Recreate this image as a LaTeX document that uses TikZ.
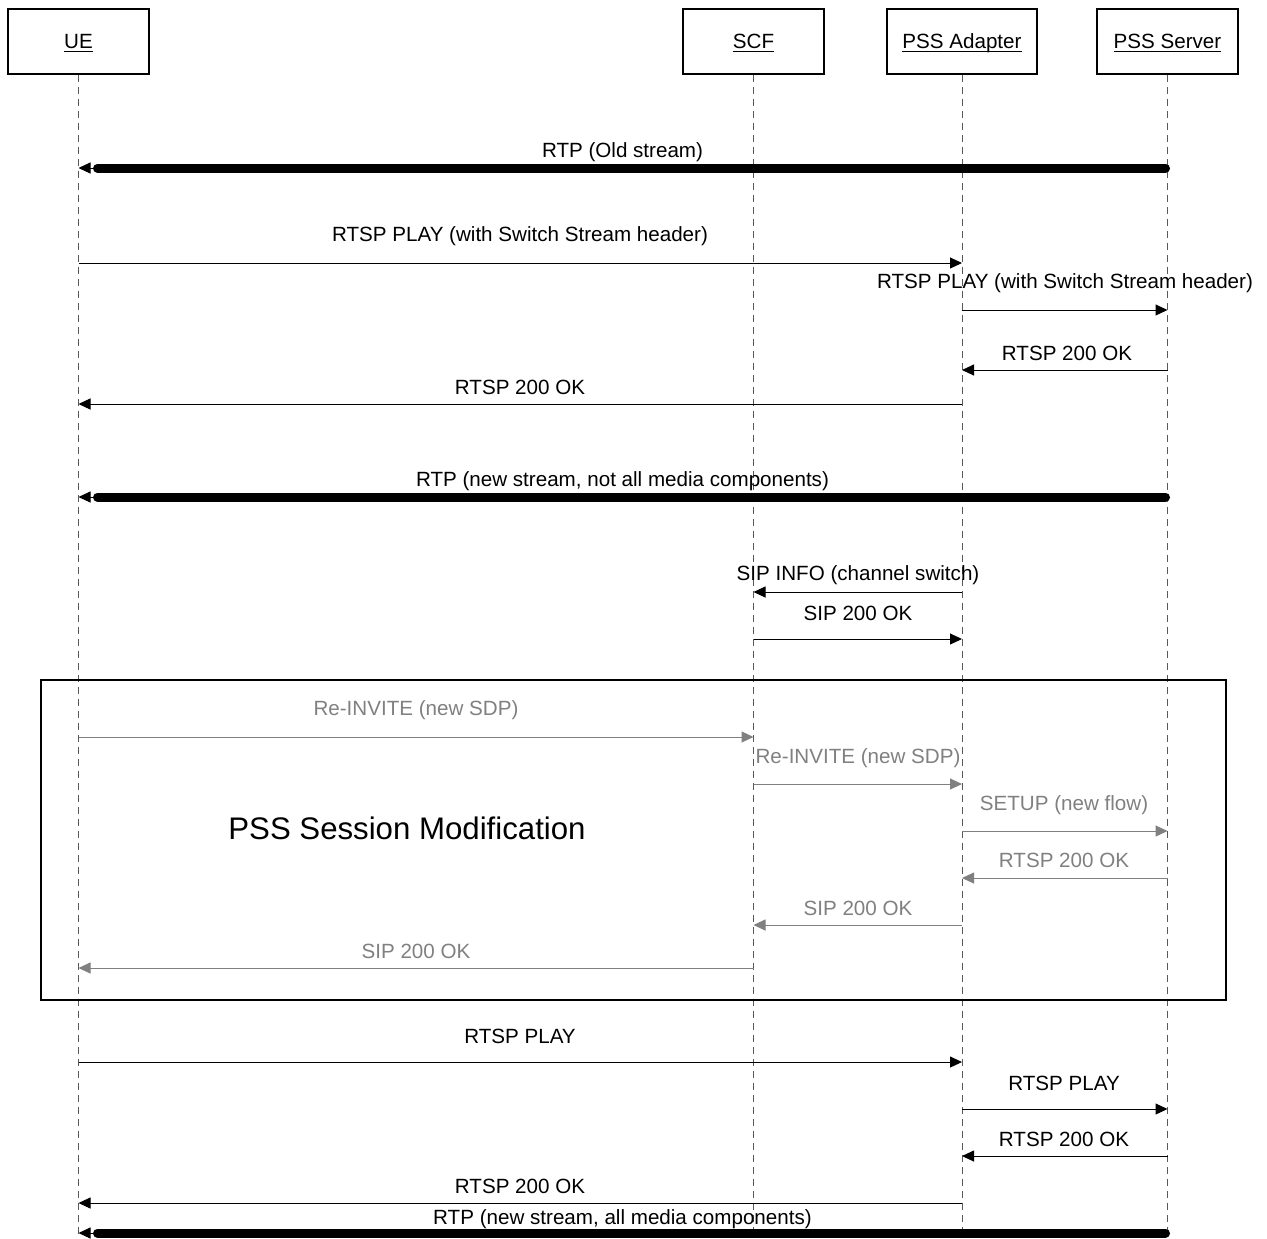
\documentclass[tikz,border=0pt]{standalone}
\usepackage{fontspec}
\setmainfont{Liberation Sans}
\usetikzlibrary{arrows.meta}
\newcommand\hdr[1]{\underline{\smash{#1}}}
\begin{document}
\begin{tikzpicture}[x=0.5pt,y=-0.5pt,
  actor/.style={draw, line width=0.55pt, minimum width=70.5pt, minimum height=32.5pt, inner sep=0pt,
    text height=7.4pt, text depth=0pt, font=\fontsize{10.3}{12}\selectfont},
  lifeline/.style={draw=black!65, dash pattern=on 3.5pt off 2.5pt, line width=0.5pt},
  msg/.style={line width=0.5pt, -{Triangle[length=6pt,width=5.5pt]}},
  gmsg/.style={msg, color=black!50},
  fatline/.style={line width=4.5pt, line cap=round, shorten >=9.5pt, shorten <=1pt},
  lbl/.style={font=\fontsize{10.3}{12}\selectfont, inner sep=0pt, yshift=-1pt},
  glbl/.style={lbl, text=black!50},
  frame/.style={draw, line width=0.6pt}
]
\useasboundingbox (0,0) rectangle (1267,1238);

% actors
\node[actor] (ue)  at (78.5,41.5)  {\hdr{UE}};
\node[actor] (scf) at (753.5,41.5) {\hdr{SCF}};
\node[actor, minimum width=75pt] (ad) at (962,41.5) {\hdr{PSS Adapter}};
\node[actor] (srv) at (1167.5,41.5) {\hdr{PSS Server}};

% lifelines
\coordinate (ueB)  at (ue.south |- 0,1238);
\coordinate (scfB) at (scf.south |- 0,1238);
\coordinate (adB)  at (ad.south |- 0,1238);
\coordinate (srvB) at (srv.south |- 0,1238);
\draw[lifeline] (ue.south) -- (ueB);
\draw[lifeline] (scf.south) -- (scfB);
\draw[lifeline] (ad.south) -- (adB);
\draw[lifeline] (srv.south) -- (srvB);

% 1 RTP old stream
\draw[msg] (srv |- 0,168) -- (ue |- 0,168);
\draw[fatline] (srv |- 0,168) -- (ue |- 0,168);
\node[lbl] (l1) at (622.5,150) {RTP (Old stream)};

% 2
\draw[msg] (ue |- 0,263) -- (ad |- 0,263);
\node[lbl] (l2) at (520,234) {RTSP PLAY (with Switch Stream header)};
% 3
\draw[msg] (ad |- 0,310) -- (srv |- 0,310);
\node[lbl] (l3) at (1065,281) {RTSP PLAY (with Switch Stream header)};
% 4
\draw[msg] (srv |- 0,370) -- (ad |- 0,370);
\node[lbl] (l4) at (1067,351) {RTSP 200 OK};
% 5
\draw[msg] (ad |- 0,404) -- (ue |- 0,404);
\node[lbl] (l5) at (520,385) {RTSP 200 OK};

% 6 RTP new stream
\draw[msg] (srv |- 0,497) -- (ue |- 0,497);
\draw[fatline] (srv |- 0,497) -- (ue |- 0,497);
\node[lbl] (l6) at (622.5,479) {RTP (new stream, not all media components)};

% 7
\draw[msg] (ad |- 0,592) -- (scf |- 0,592);
\node[lbl] (l7) at (858,573) {SIP INFO (channel switch)};
% 8
\draw[msg] (scf |- 0,639) -- (ad |- 0,639);
\node[lbl] (l8) at (858,611) {SIP 200 OK};

% session modification frame
\draw[frame] (41,680) rectangle (1226,1000);
\node[font=\fontsize{15.6}{18}\selectfont, inner sep=0pt] (title) at (407,828) {PSS Session Modification};

% 9
\draw[gmsg] (ue |- 0,737) -- (scf |- 0,737);
\node[glbl] (l9) at (416,708) {Re-INVITE (new SDP)};
% 10
\draw[gmsg] (scf |- 0,784) -- (ad |- 0,784);
\node[glbl] (l10) at (858,756) {Re-INVITE (new SDP)};
% 11
\draw[gmsg] (ad |- 0,831) -- (srv |- 0,831);
\node[glbl] (l11) at (1064,803) {SETUP (new flow)};
% 12
\draw[gmsg] (srv |- 0,878) -- (ad |- 0,878);
\node[glbl] (l12) at (1064,858) {RTSP 200 OK};
% 13
\draw[gmsg] (ad |- 0,925) -- (scf |- 0,925);
\node[glbl] (l13) at (858,906) {SIP 200 OK};
% 14
\draw[gmsg] (scf |- 0,968) -- (ue |- 0,968);
\node[glbl] (l14) at (416,949) {SIP 200 OK};

% 15
\draw[msg] (ue |- 0,1062) -- (ad |- 0,1062);
\node[lbl] (l15) at (520,1034) {RTSP PLAY};
% 16
\draw[msg] (ad |- 0,1109) -- (srv |- 0,1109);
\node[lbl] (l16) at (1064,1081) {RTSP PLAY};
% 17
\draw[msg] (srv |- 0,1156) -- (ad |- 0,1156);
\node[lbl] (l17) at (1064,1137) {RTSP 200 OK};
% 18
\draw[msg] (ad |- 0,1203) -- (ue |- 0,1203);
\node[lbl] (l18) at (520,1184) {RTSP 200 OK};
% 19
\draw[msg] (srv |- 0,1233) -- (ue |- 0,1233);
\draw[fatline] (srv |- 0,1233) -- (ue |- 0,1233);
\node[lbl] (l19) at (622.5,1217) {RTP (new stream, all media components)};
\end{tikzpicture}
\end{document}
